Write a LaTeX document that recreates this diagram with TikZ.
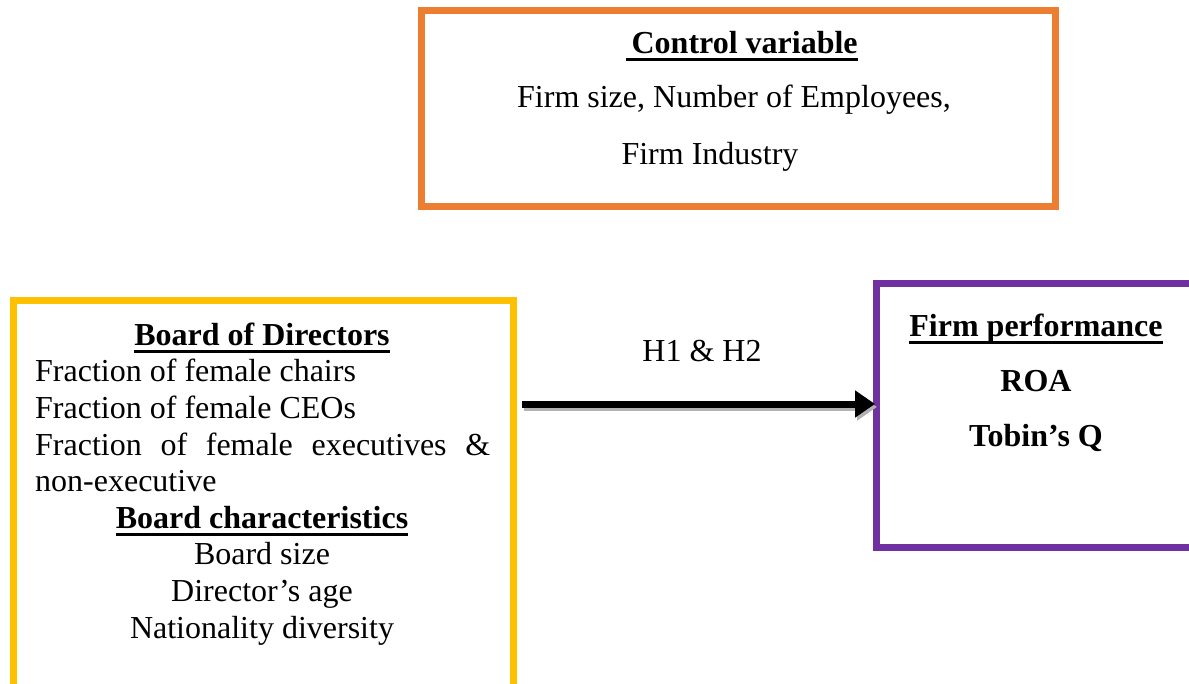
\documentclass[tikz,border=0pt]{standalone}
\usepackage{fontspec}
\setmainfont{Liberation Serif}
\usetikzlibrary{arrows.meta}
\definecolor{orangeC}{HTML}{ED7D31}
\definecolor{yellowC}{HTML}{FFC000}
\definecolor{purpleC}{HTML}{7030A0}
\newcommand{\ulbf}[1]{\setbox0=\hbox{\textbf{#1}}\rlap{\rule[-8pt]{\wd0}{3pt}}\box0}
\begin{document}
\begin{tikzpicture}[x=1pt,y=-1pt,
  boxframe/.style={line width=7pt},
  txt/.style={anchor=base,inner sep=0pt,font=\fontsize{32}{37}\selectfont},
  txtl/.style={anchor=base west,inner sep=0pt,font=\fontsize{32}{37}\selectfont}]
\useasboundingbox[fill=white] (0,0) rectangle (1189,683);
% boxes
\draw[boxframe,draw=orangeC] (421,10) rectangle (1055,206);
\draw[boxframe,draw=yellowC] (13.5,300.5) rectangle (513.5,700);
\draw[boxframe,draw=purpleC] (876.5,283.5) rectangle (1200,547.5);
% control variable text
\node[txt] (cv) at (742,53) {\ulbf{\,Control variable}};
\node[txt] (cv1) at (734,107) {Firm size, Number of Employees,};
\node[txt] (cv2) at (710,164) {Firm Industry};
% board text
\node[txt] (bd) at (262,345) {\ulbf{Board of Directors}};
\node[txtl] (b1) at (35,381) {Fraction of female chairs};
\node[txtl] (b2) at (35,418) {Fraction of female CEOs};
\node[txtl] (b3) at (35,455) {\makebox[455pt][s]{Fraction of female executives \&}};
\node[txtl] (b4) at (35,491) {non-executive};
\node[txt] (bc) at (262,528) {\ulbf{Board characteristics}};
\node[txt] (c1) at (262,564) {Board size};
\node[txt] (c2) at (262,601) {Director’s age};
\node[txt] (c3) at (262,638) {Nationality diversity};
% firm performance
\node[txt] (fp) at (1036,336) {\ulbf{Firm performance}};
\node[txt] (roa) at (1036,391) {\textbf{ROA}};
\node[txt] (tq) at (1036,446) {\textbf{Tobin’s Q}};
% arrow
\coordinate (as) at (522,404);
\coordinate (ae) at (875,404);
\draw[line width=7pt,gray!60,-{Triangle[length=20pt,width=26pt]}] ([shift={(2,3)}]as) -- ([shift={(2,3)}]ae);
\draw[line width=7pt,black,-{Triangle[length=20pt,width=26pt]}] (as) -- (ae);
\node[txt] (h) at (702,361) {H1 \& H2};
\end{tikzpicture}
\end{document}
